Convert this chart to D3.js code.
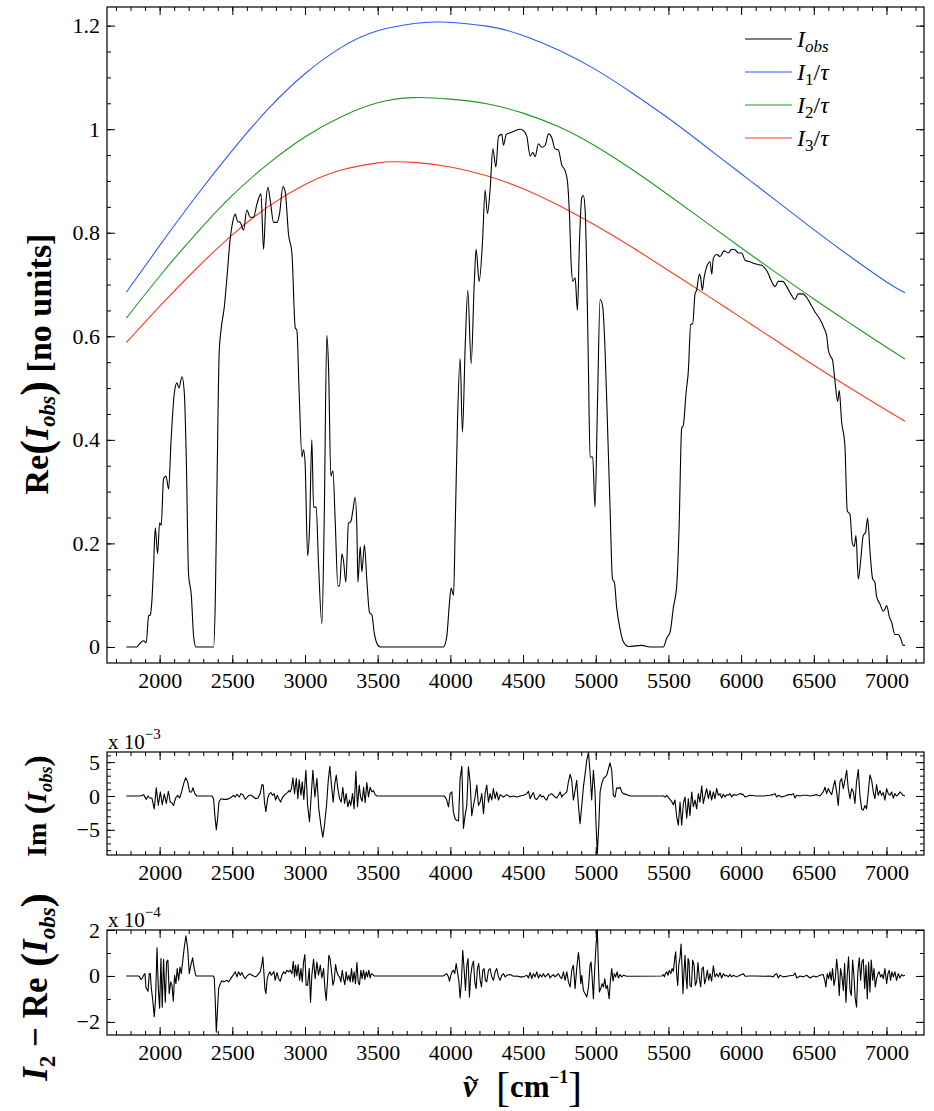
<!DOCTYPE html>
<html>
<head>
<meta charset="utf-8">
<script src="https://cdn.jsdelivr.net/npm/d3@7"></script>
<style>
  body { margin: 0; background: #fff; }
  svg text { font-family: "Liberation Serif", "DejaVu Serif", serif; fill: #000; }
</style>
</head>
<body>
<script>
// ---- data ----
// wavenumber [cm^-1], Re(I_obs)
const reObs = [[1771,0],[1844,0],[1856,0.004],[1890,0.012],[1908,0.008],[1924,0.06],[1936,0.062],[1947,0.09],[1959,0.16],[1970,0.23],[1986,0.18],[2000,0.24],[2011,0.235],[2027,0.325],[2044,0.33],[2062,0.305],[2078,0.395],[2101,0.49],[2119,0.51],[2133,0.50],[2154,0.522],[2170,0.49],[2183,0.37],[2199,0.14],[2218,0.10],[2234,0.02],[2250,0],[2371,0],[2383,0.09],[2394,0.30],[2410,0.57],[2424,0.616],[2445,0.657],[2463,0.713],[2486,0.79],[2502,0.82],[2520,0.836],[2536,0.822],[2555,0.82],[2577,0.805],[2600,0.844],[2623,0.83],[2646,0.83],[2669,0.855],[2697,0.875],[2715,0.768],[2731,0.858],[2745,0.888],[2761,0.862],[2784,0.82],[2807,0.82],[2825,0.837],[2848,0.889],[2864,0.879],[2887,0.796],[2910,0.761],[2933,0.616],[2944,0.612],[2960,0.49],[2979,0.367],[2990,0.381],[3001,0.353],[3018,0.176],[3031,0.228],[3047,0.40],[3059,0.27],[3077,0.27],[3093,0.16],[3116,0.045],[3132,0.242],[3150,0.602],[3162,0.54],[3178,0.33],[3192,0.34],[3208,0.242],[3226,0.118],[3238,0.118],[3254,0.18],[3265,0.166],[3281,0.125],[3299,0.239],[3315,0.242],[3329,0.263],[3345,0.289],[3357,0.228],[3364,0.125],[3380,0.194],[3391,0.145],[3409,0.197],[3425,0.131],[3444,0.066],[3460,0.062],[3476,0.028],[3494,0.007],[3517,0],[3952,0],[3975,0.02],[3993,0.083],[4005,0.114],[4022,0.10],[4033,0.228],[4049,0.436],[4067,0.557],[4083,0.415],[4102,0.581],[4120,0.689],[4143,0.547],[4164,0.70],[4177,0.768],[4198,0.706],[4221,0.782],[4239,0.882],[4255,0.837],[4274,0.886],[4292,0.962],[4313,0.927],[4331,0.986],[4354,0.99],[4365,0.969],[4384,0.99],[4411,0.993],[4445,0.997],[4480,1.0],[4503,0.997],[4526,0.986],[4549,0.948],[4567,0.955],[4583,0.947],[4606,0.972],[4629,0.965],[4652,0.969],[4675,0.991],[4698,0.983],[4720,0.962],[4743,0.96],[4766,0.931],[4789,0.92],[4805,0.90],[4819,0.837],[4831,0.74],[4842,0.706],[4858,0.713],[4874,0.65],[4888,0.782],[4904,0.868],[4915,0.872],[4927,0.844],[4938,0.727],[4950,0.533],[4961,0.367],[4979,0.367],[4995,0.27],[5012,0.47],[5030,0.671],[5048,0.657],[5064,0.574],[5080,0.436],[5099,0.263],[5115,0.131],[5128,0.125],[5144,0.076],[5167,0.035],[5190,0.01],[5225,0.001],[5316,0.003],[5374,0],[5465,0],[5488,0.017],[5511,0.028],[5534,0.076],[5557,0.118],[5573,0.228],[5591,0.422],[5603,0.429],[5621,0.49],[5637,0.533],[5653,0.623],[5667,0.624],[5683,0.682],[5694,0.689],[5713,0.72],[5722,0.713],[5733,0.689],[5745,0.713],[5763,0.734],[5786,0.744],[5798,0.72],[5809,0.751],[5832,0.758],[5855,0.754],[5882,0.765],[5912,0.761],[5935,0.768],[5958,0.767],[5981,0.761],[6004,0.761],[6027,0.747],[6061,0.744],[6095,0.74],[6141,0.737],[6176,0.727],[6210,0.706],[6233,0.696],[6256,0.706],[6286,0.706],[6313,0.696],[6341,0.682],[6370,0.671],[6393,0.682],[6423,0.682],[6451,0.675],[6474,0.664],[6508,0.647],[6542,0.633],[6570,0.616],[6588,0.602],[6600,0.574],[6616,0.561],[6629,0.554],[6646,0.512],[6664,0.474],[6675,0.495],[6691,0.436],[6714,0.388],[6730,0.263],[6749,0.256],[6765,0.20],[6778,0.194],[6790,0.215],[6806,0.131],[6822,0.166],[6840,0.215],[6856,0.221],[6870,0.249],[6886,0.187],[6905,0.131],[6920,0.125],[6932,0.097],[6955,0.083],[6978,0.069],[6989,0.073],[7001,0.08],[7019,0.059],[7035,0.048],[7058,0.024],[7081,0.024],[7097,0.017],[7115,0.003],[7127,0.003]];

// I_1/tau, I_2/tau, I_3/tau
const i1tau = [[1771,0.685],[2000,0.775],[2250,0.87],[2500,0.959],[2750,1.04],[3000,1.107],[3250,1.158],[3500,1.19],[3750,1.204],[3930,1.207],[4250,1.199],[4500,1.181],[4750,1.152],[5000,1.115],[5250,1.07],[5500,1.021],[5750,0.968],[6000,0.914],[6250,0.86],[6500,0.806],[6750,0.754],[7000,0.705],[7127,0.684]];
const i2tau = [[1771,0.635],[2000,0.716],[2250,0.798],[2500,0.872],[2750,0.934],[3000,0.985],[3250,1.024],[3500,1.051],[3744,1.061],[4000,1.058],[4250,1.049],[4500,1.031],[4750,1.004],[5000,0.967],[5250,0.922],[5500,0.873],[5750,0.822],[6000,0.771],[6250,0.721],[6500,0.672],[6750,0.625],[7000,0.579],[7127,0.556]];
const i3tau = [[1771,0.588],[2000,0.658],[2250,0.73],[2500,0.796],[2750,0.851],[3000,0.893],[3250,0.921],[3500,0.935],[3609,0.937],[3750,0.936],[4000,0.927],[4250,0.91],[4500,0.885],[4750,0.852],[5000,0.814],[5250,0.772],[5500,0.727],[5750,0.682],[6000,0.636],[6250,0.59],[6500,0.544],[6750,0.5],[7000,0.457],[7127,0.436]];

// Im(I_obs), in units of 1e-3
const imObs = [[1771,0],[1867,0],[1890,0.2],[1908,-0.5],[1920,0],[1931,-0.3],[1947,-0.3],[1963,-1.9],[1977,1.2],[1991,-1.4],[2005,0.6],[2018,-1.3],[2032,0.3],[2046,-1.1],[2060,0.7],[2073,-0.9],[2083,-1.0],[2096,-1.4],[2110,-0.3],[2124,0.1],[2138,-0.3],[2151,0.6],[2165,1.8],[2179,2.7],[2193,2.1],[2206,0.6],[2220,0.6],[2229,1.2],[2243,0.3],[2257,0],[2360,0],[2371,-0.4],[2380,-2.9],[2390,-5.0],[2399,-3.3],[2408,-0.9],[2422,-0.4],[2440,-0.5],[2463,-0.5],[2486,-0.3],[2509,0.1],[2520,-0.15],[2532,0.25],[2548,-0.15],[2559,0.35],[2573,0.2],[2589,-0.5],[2603,-0.15],[2616,0.1],[2630,0.1],[2646,-0.15],[2662,-0.4],[2676,-0.3],[2692,0.35],[2704,1.7],[2713,1.6],[2722,-1.1],[2731,-2.3],[2743,-0.4],[2754,0.35],[2765,0.5],[2777,0.1],[2788,0.35],[2798,-0.6],[2809,0.1],[2820,-0.4],[2832,-0.9],[2843,-0.3],[2857,0.1],[2869,0.35],[2880,0.5],[2889,0.8],[2898,0.6],[2907,1.1],[2917,2.7],[2928,0.35],[2940,2.6],[2951,-0.4],[2960,2.4],[2972,0.1],[2981,2.1],[2992,-0.5],[3006,3.8],[3018,-1.4],[3031,-3.8],[3043,0.1],[3054,3.8],[3068,-0.15],[3082,2.6],[3095,-1.9],[3111,-4.6],[3123,-6.1],[3134,-4.3],[3148,-1.4],[3160,2.3],[3171,4.4],[3182,1.6],[3194,-0.9],[3205,1.8],[3215,3.1],[3226,1.1],[3238,-0.4],[3249,-0.9],[3260,1.3],[3272,-1.1],[3283,0.35],[3295,-1.6],[3306,-0.6],[3315,-1.4],[3327,0.35],[3338,-1.9],[3350,3.6],[3361,-1.6],[3373,1.6],[3382,-0.15],[3393,-0.8],[3403,1.3],[3414,-1.0],[3425,2.0],[3437,-0.15],[3448,1.3],[3460,0.6],[3471,0.8],[3483,0.2],[3494,0],[3953,0],[3964,-0.15],[3975,-0.6],[3987,-1.6],[3998,0.35],[4010,0.6],[4021,-2.4],[4033,-3.4],[4044,-3.6],[4056,-3.7],[4067,2.6],[4079,4.4],[4090,-4.8],[4101,-2.9],[4113,-1.4],[4124,4.3],[4136,2.1],[4147,-2.9],[4159,-1.4],[4170,-0.15],[4182,1.6],[4193,-1.4],[4205,-0.9],[4216,0.35],[4228,-2.6],[4239,0.35],[4250,1.6],[4262,-0.9],[4273,0.35],[4285,-0.6],[4296,1.1],[4308,-0.4],[4319,0.6],[4331,-0.6],[4342,0.2],[4365,-0.15],[4388,0.2],[4411,-0.15],[4434,0],[4457,-0.15],[4480,0],[4503,0.1],[4526,0.35],[4537,0.7],[4549,-0.4],[4560,0.1],[4571,0.5],[4583,-0.4],[4594,-0.5],[4606,-0.15],[4617,0.2],[4629,-0.15],[4640,0],[4652,-0.4],[4663,-0.6],[4675,0.1],[4686,0.2],[4697,0.35],[4709,0.1],[4720,-0.15],[4732,-0.3],[4743,0.1],[4755,0.6],[4766,-0.15],[4778,0.2],[4789,0.35],[4801,0.6],[4812,2.1],[4824,3.2],[4835,2.3],[4846,-0.6],[4858,0.8],[4869,2.3],[4881,-1.4],[4892,-4.1],[4904,-1.4],[4915,1.3],[4927,3.3],[4938,5.3],[4950,6.4],[4961,3.5],[4972,-0.6],[4984,3.8],[4995,0.6],[5002,-4.3],[5011,-8.5],[5021,-4.3],[5030,0.6],[5041,1.8],[5053,2.6],[5064,2.8],[5076,3.1],[5087,4.0],[5098,4.9],[5110,3.8],[5121,0.1],[5133,-0.15],[5144,1.2],[5156,1.1],[5167,1.3],[5179,0.6],[5190,0.35],[5213,0.2],[5236,0],[5465,0],[5477,-0.15],[5488,0.1],[5506,-0.4],[5522,-0.8],[5534,-1.3],[5545,-0.6],[5557,-3.1],[5568,-4.3],[5580,-0.9],[5591,-4.3],[5603,-1.1],[5614,-0.15],[5626,-3.3],[5637,-0.4],[5648,-2.9],[5660,0.6],[5671,-1.6],[5683,-0.6],[5694,-1.9],[5706,0.35],[5717,-0.9],[5729,1.5],[5740,-1.1],[5752,0.1],[5763,1.1],[5775,-0.4],[5786,0.8],[5797,-0.6],[5809,0.6],[5820,-0.4],[5832,1.1],[5843,0.1],[5855,0.35],[5866,-0.3],[5878,0.25],[5889,-0.15],[5901,0.2],[5912,0.1],[5923,0.35],[5935,-0.15],[5946,0.2],[5969,0.1],[5992,0.35],[6015,0.2],[6027,-0.15],[6061,0.1],[6107,0],[6153,0],[6198,0.1],[6221,0.2],[6233,0.35],[6244,-0.15],[6256,0.1],[6279,-0.15],[6302,0],[6325,0.2],[6348,0.2],[6359,0.35],[6371,-0.3],[6382,0.1],[6405,0],[6428,0.1],[6451,0.1],[6474,0],[6497,0.1],[6519,0.2],[6542,0],[6565,0.6],[6577,1.3],[6588,0.35],[6600,1.1],[6611,0.6],[6623,0.2],[6634,1.3],[6645,2.3],[6657,0.6],[6668,-1.4],[6680,2.1],[6691,2.6],[6703,1.1],[6714,2.3],[6726,3.8],[6737,1.1],[6749,-0.4],[6760,1.1],[6772,0.6],[6783,-1.1],[6794,2.1],[6806,3.9],[6817,0.1],[6829,-1.9],[6840,-2.1],[6852,-1.4],[6863,-1.9],[6875,0.6],[6886,3.1],[6898,2.3],[6909,0.6],[6920,-0.4],[6932,1.7],[6943,0.1],[6955,0.8],[6966,0.1],[6978,0.5],[6989,-0.6],[7001,1.1],[7012,0.35],[7024,0.1],[7035,0.6],[7047,-0.3],[7058,0.35],[7069,0],[7081,0.2],[7092,0.6],[7104,0.35],[7115,0.1],[7127,0]];

// I_2 - Re(I_obs), in units of 1e-4
const resid = [[1771,0],[1856,0],[1862,-0.04],[1872,-0.15],[1881,-0.09],[1890,0.03],[1899,0.1],[1906,-0.5],[1920,-0.67],[1929,0.1],[1936,0.1],[1943,-0.55],[1952,-1.0],[1963,-1.77],[1972,-1.0],[1982,1.23],[1991,-0.55],[2000,-1.4],[2009,0.76],[2018,-1.36],[2027,0.73],[2039,-1.14],[2048,0.6],[2057,0.69],[2066,-0.77],[2076,-0.26],[2085,-0.4],[2094,-1.1],[2103,0.03],[2112,-0.34],[2121,0.32],[2131,-0.19],[2140,0.39],[2149,0.1],[2158,0.6],[2170,1.27],[2181,1.75],[2193,1.2],[2204,0.1],[2215,0.47],[2227,0.79],[2238,0.32],[2250,0],[2371,0],[2376,-0.12],[2383,-1.14],[2390,-2.45],[2396,-1.72],[2406,-0.55],[2417,-0.34],[2429,-0.2],[2440,-0.26],[2451,-0.23],[2463,-0.19],[2474,-0.26],[2486,-0.15],[2497,-0.04],[2509,0.06],[2520,0.18],[2532,-0.04],[2543,0.18],[2555,0.03],[2566,0.15],[2577,0],[2589,-0.12],[2600,-0.01],[2612,0.06],[2623,0.09],[2635,0.03],[2646,0],[2658,-0.04],[2669,0],[2681,0.1],[2692,0.18],[2704,0.54],[2710,0.83],[2717,0.18],[2724,-0.55],[2731,-0.77],[2740,-0.12],[2749,0.06],[2759,0.18],[2768,0.03],[2777,0.1],[2786,0.2],[2795,-0.19],[2807,0.15],[2818,-0.12],[2830,-0.23],[2841,0.03],[2853,0.18],[2864,0.1],[2875,0.25],[2887,0.18],[2898,0.25],[2910,0.1],[2919,0.64],[2928,-0.04],[2935,0.47],[2944,0],[2953,0.5],[2963,-0.19],[2972,0.32],[2981,-0.26],[2990,0.6],[2999,0.93],[3008,-0.4],[3018,-0.4],[3029,0.32],[3038,-1.14],[3047,0.03],[3059,0.73],[3070,-0.12],[3082,0.6],[3093,0.03],[3105,0.47],[3116,-0.09],[3128,0.32],[3137,-0.55],[3146,-1.07],[3155,-0.19],[3164,0.9],[3173,0.73],[3183,0.18],[3192,-0.4],[3201,-0.19],[3210,0.5],[3219,0.18],[3228,0.03],[3238,-0.04],[3247,-0.26],[3256,0.25],[3265,-0.12],[3274,-0.38],[3283,0.18],[3292,-0.19],[3302,0.03],[3311,-0.26],[3320,0.32],[3329,-0.26],[3338,0.18],[3347,-0.34],[3357,0.58],[3366,-0.26],[3375,-0.38],[3384,0.25],[3393,-0.12],[3403,0.25],[3412,-0.15],[3421,0.18],[3430,-0.04],[3439,0.25],[3448,-0.09],[3457,0.1],[3467,0.06],[3476,0],[3953,0],[3964,0.06],[3975,0.1],[3987,-0.04],[3994,-0.23],[4003,0.03],[4012,0.18],[4021,0.25],[4030,0.1],[4040,0.54],[4049,0.18],[4058,-0.19],[4067,-0.96],[4076,-0.26],[4085,1.12],[4095,0.25],[4104,-0.63],[4113,0.47],[4122,0.76],[4131,-0.92],[4140,0.03],[4150,0.47],[4159,0.64],[4168,-0.26],[4177,-0.55],[4186,0.32],[4195,0.54],[4205,-0.19],[4214,-0.48],[4223,0.25],[4232,0.32],[4241,-0.19],[4250,-0.26],[4262,0.25],[4273,0.32],[4285,-0.04],[4296,-0.19],[4308,0.18],[4319,0.32],[4331,-0.04],[4342,-0.19],[4354,0.03],[4365,0.1],[4377,-0.04],[4388,0.03],[4411,0.06],[4434,-0.01],[4457,0],[4480,-0.04],[4503,-0.04],[4526,0.03],[4537,-0.09],[4549,0.15],[4560,-0.12],[4571,0.1],[4583,-0.04],[4594,0.18],[4606,-0.09],[4617,0.06],[4629,-0.04],[4640,0.1],[4652,-0.04],[4663,0.03],[4675,0.1],[4686,-0.09],[4697,0],[4709,0.06],[4720,-0.04],[4732,0.03],[4743,0.1],[4755,-0.04],[4766,-0.12],[4778,0.18],[4789,-0.19],[4801,0.18],[4812,-0.26],[4824,-0.48],[4835,0.25],[4846,0.47],[4858,-0.55],[4869,0.32],[4881,1.02],[4888,0.61],[4897,-0.34],[4904,0.03],[4915,-0.63],[4927,-0.77],[4938,-0.92],[4950,-0.48],[4961,0.47],[4968,0.61],[4975,-0.04],[4984,-0.99],[4993,0.32],[5002,1.34],[5011,2.0],[5018,0.47],[5025,-0.7],[5034,-0.55],[5044,-0.34],[5053,-0.48],[5062,-0.12],[5071,-0.55],[5080,-0.41],[5092,-0.99],[5101,-0.19],[5110,0.32],[5119,-0.23],[5128,0.1],[5137,-0.04],[5147,0.18],[5156,-0.09],[5167,0.06],[5179,-0.04],[5190,0.03],[5213,-0.01],[5454,0],[5465,0.06],[5472,-0.04],[5479,0.1],[5488,0.18],[5497,0.03],[5506,0.25],[5516,0.1],[5525,0.32],[5534,0.2],[5543,0.76],[5550,1.05],[5557,0.03],[5564,-0.41],[5571,0.47],[5580,0.83],[5587,1.39],[5594,0.32],[5600,-0.77],[5607,0.18],[5614,0.9],[5621,-0.04],[5628,-0.55],[5635,0.76],[5642,0.61],[5648,-0.41],[5658,-0.48],[5667,0.69],[5676,0.47],[5685,-0.41],[5694,-0.26],[5703,0.58],[5713,-0.12],[5722,-0.48],[5731,0.32],[5740,0.39],[5749,-0.34],[5758,-0.12],[5768,0.25],[5777,-0.19],[5786,0.1],[5797,-0.23],[5809,0.44],[5820,-0.04],[5832,0.1],[5843,-0.04],[5855,0.15],[5866,-0.09],[5878,0.1],[5889,0],[5901,0.03],[5912,-0.04],[5923,0.06],[5935,-0.04],[5946,0.03],[5969,-0.04],[5992,0.03],[6015,0.1],[6027,-0.01],[6061,0],[6107,0],[6153,-0.01],[6198,0],[6221,-0.04],[6233,0.06],[6244,0.1],[6256,-0.09],[6267,0.03],[6290,-0.04],[6325,0],[6359,0.03],[6371,0.13],[6382,-0.09],[6405,0],[6428,-0.04],[6451,0.03],[6474,-0.09],[6497,0],[6519,-0.04],[6542,0.03],[6565,0.06],[6577,-0.23],[6583,-0.48],[6593,0.1],[6602,-0.12],[6611,0.18],[6620,-0.19],[6629,0.32],[6639,-0.41],[6648,-0.09],[6657,0.73],[6666,0.18],[6675,-0.85],[6684,0.32],[6694,-0.04],[6703,-0.63],[6712,0.54],[6721,-1.14],[6730,0.03],[6739,0.83],[6749,-0.63],[6758,-0.85],[6767,0.69],[6776,0.03],[6785,-0.99],[6794,-1.36],[6803,0.18],[6813,0.79],[6822,-0.19],[6831,0.61],[6840,0.73],[6850,-0.55],[6859,0.47],[6868,-0.99],[6877,0.61],[6886,-0.7],[6895,0.69],[6905,-0.19],[6914,0.32],[6923,-0.48],[6932,-0.12],[6941,0.1],[6950,0.18],[6959,-0.04],[6969,0.06],[6978,-0.12],[6989,0.32],[7001,-0.34],[7010,0.1],[7019,0.25],[7028,-0.19],[7037,0.18],[7047,-0.04],[7058,0.18],[7069,-0.19],[7081,0.1],[7092,-0.09],[7104,0.06],[7115,0],[7127,0.03]];

// axis ticks
const xTicks = [2000, 2500, 3000, 3500, 4000, 4500, 5000, 5500, 6000, 6500, 7000];
const mainYTicks = [0, 0.2, 0.4, 0.6, 0.8, 1, 1.2];
const imYTicks = [-5, 0, 5];
const resYTicks = [-2, 0, 2];

const colors = { obs: "#000", i1: "#2f5bff", i2: "#1f9a1f", i3: "#ff3b1f" };
const serif = '"Liberation Serif", "DejaVu Serif", serif';

const W = 934, H = 1111;
const svg = d3.select("body").append("svg").attr("width", W).attr("height", H);

const x = d3.scaleLinear().domain([1638, 7258]).range([107, 924]);
const xMinor = d3.range(1700, 7300, 100);

// one framed panel with ticks on all four sides
function panel(top, bottom, yDomain, yMajor, yMinor) {
  const y = d3.scaleLinear().domain(yDomain).range([bottom, top]);
  const g = svg.append("g");
  const [x0, x1] = x.range();

  const put = (axis, tx, ty) => {
    const a = g.append("g").attr("transform", `translate(${tx},${ty})`).call(axis);
    a.style("font-family", serif);
    a.select(".domain").remove();
    a.selectAll("line").attr("stroke", "#000").attr("stroke-width", 1);
    a.selectAll("text").attr("font-size", 22).style("font-family", serif);
    return a;
  };
  // bottom
  put(d3.axisBottom(x).tickValues(xTicks).tickSize(-8).tickPadding(9).tickFormat(d3.format("d")), 0, bottom);
  put(d3.axisBottom(x).tickValues(xMinor).tickSize(-4).tickFormat(""), 0, bottom);
  // top
  put(d3.axisTop(x).tickValues(xTicks).tickSize(-8).tickFormat(""), 0, top);
  put(d3.axisTop(x).tickValues(xMinor).tickSize(-4).tickFormat(""), 0, top);
  // left
  put(d3.axisLeft(y).tickValues(yMajor).tickSize(-8).tickPadding(7).tickFormat(d3.format("~g")), x0, 0);
  put(d3.axisLeft(y).tickValues(yMinor).tickSize(-4).tickFormat(""), x0, 0);
  // right
  put(d3.axisRight(y).tickValues(yMajor).tickSize(-8).tickFormat(""), x1, 0);
  put(d3.axisRight(y).tickValues(yMinor).tickSize(-4).tickFormat(""), x1, 0);

  g.append("rect")
    .attr("x", x0).attr("y", top)
    .attr("width", x1 - x0).attr("height", bottom - top)
    .attr("fill", "none").attr("stroke", "#000").attr("stroke-width", 1.2);

  return { g, y };
}

function drawLine(p, data, color, curve) {
  const line = d3.line()
    .x(d => x(d[0]))
    .y(d => p.y(d[1]))
    .curve(curve || d3.curveLinear);
  p.g.append("path")
    .datum(data)
    .attr("d", line)
    .attr("fill", "none")
    .attr("stroke", color)
    .attr("stroke-width", 1.1)
    .attr("stroke-linejoin", "round");
}

// ---- main panel ----
const main = panel(7, 663, [-0.031, 1.236], mainYTicks, d3.range(0, 1.21, 0.05));
drawLine(main, i1tau, colors.i1, d3.curveNatural);
drawLine(main, i2tau, colors.i2, d3.curveNatural);
drawLine(main, i3tau, colors.i3, d3.curveNatural);
drawLine(main, reObs, colors.obs, d3.curveMonotoneX);

// legend
const legendItems = [
  { key: "obs", sub: "obs", tau: false },
  { key: "i1", sub: "1", tau: true },
  { key: "i2", sub: "2", tau: true },
  { key: "i3", sub: "3", tau: true }
];
legendItems.forEach((d, i) => {
  const ly = 39 + i * 33;
  svg.append("line").attr("x1", 745).attr("x2", 792).attr("y1", ly).attr("y2", ly)
    .attr("stroke", colors[d.key]).attr("stroke-width", 1.1);
  const t = svg.append("text").attr("x", 797).attr("y", ly + 8).attr("font-size", 24);
  t.append("tspan").attr("font-style", "italic").text("I");
  t.append("tspan").attr("font-style", d.tau ? "normal" : "italic")
    .attr("font-size", 17).attr("dy", 5).text(d.sub);
  if (d.tau) {
    t.append("tspan").attr("dy", -5).text("/");
    t.append("tspan").attr("font-style", "italic").text("τ");
  }
});

// ---- Im panel ----
const imP = panel(752, 855, [-8.72, 6.5], imYTicks, d3.range(-8, 7, 1));
drawLine(imP, imObs, "#000");

// ---- residual panel ----
const resP = panel(930, 1035, [-2.57, 2.0], resYTicks, d3.range(-2, 2.1, 1));
drawLine(resP, resid, "#000");

// scale factors
function factor(px, py, exp) {
  const t = svg.append("text").attr("x", px).attr("y", py).attr("font-size", 21);
  t.append("tspan").text("x 10");
  t.append("tspan").attr("font-size", 15).attr("dy", -10).text(exp);
}
factor(108, 749, "−3");
factor(108, 927, "−4");

// ---- axis titles ----
function yTitle(cx, cy, size, parts) {
  const t = svg.append("text")
    .attr("transform", `translate(${cx},${cy}) rotate(-90)`)
    .attr("text-anchor", "middle")
    .attr("font-weight", "bold")
    .attr("font-size", size);
  parts.forEach(p => {
    const s = t.append("tspan").text(p.t);
    if (p.it) s.attr("font-style", "italic");
    if (p.fs) s.attr("font-size", p.fs * size);
    if (p.dy) s.attr("dy", p.dy * size);
  });
}
yTitle(48, 364, 34, [
  { t: "Re" }, { t: "(", fs: 1.3, dy: 0.08 }, { t: "I", it: true, dy: -0.08 },
  { t: "obs", it: true, fs: 0.66, dy: 0.22 }, { t: ")", fs: 1.3, dy: -0.14 }, { t: " [no units]" }
]);
yTitle(46, 806, 28, [
  { t: "Im" }, { t: " (", fs: 1.2, dy: 0.08 }, { t: "I", it: true, dy: -0.08 },
  { t: "obs", it: true, fs: 0.66, dy: 0.22 }, { t: ")", fs: 1.2, dy: -0.14 }
]);
yTitle(47, 987, 35, [
  { t: "I", it: true }, { t: "2", fs: 0.66, dy: 0.22 }, { t: " − Re", dy: -0.22 }, { t: " (", fs: 1.2, dy: 0.08 },
  { t: "I", it: true, dy: -0.08 }, { t: "obs", it: true, fs: 0.66, dy: 0.22 }, { t: ")", fs: 1.2, dy: -0.14 }
]);

// x title: nu-tilde [cm^-1]
const xTitle = svg.append("g").attr("font-weight", "bold");
xTitle.append("text").attr("x", 463).attr("y", 1097).attr("font-size", 31)
  .attr("font-style", "italic").text("ν");
// tilde accent over nu
xTitle.append("path")
  .attr("d", "M466,1079 q3,-4 6,0 t6,0")
  .attr("fill", "none").attr("stroke", "#000").attr("stroke-width", 1.8);
xTitle.append("text").attr("x", 496).attr("y", 1101).attr("font-size", 42)
  .attr("font-weight", "normal").text("[");
xTitle.append("text").attr("x", 510).attr("y", 1097).attr("font-size", 31).text("cm");
xTitle.append("text").attr("x", 549).attr("y", 1083).attr("font-size", 18).text("−1");
xTitle.append("text").attr("x", 568).attr("y", 1101).attr("font-size", 42)
  .attr("font-weight", "normal").text("]");
</script>
</body>
</html>
